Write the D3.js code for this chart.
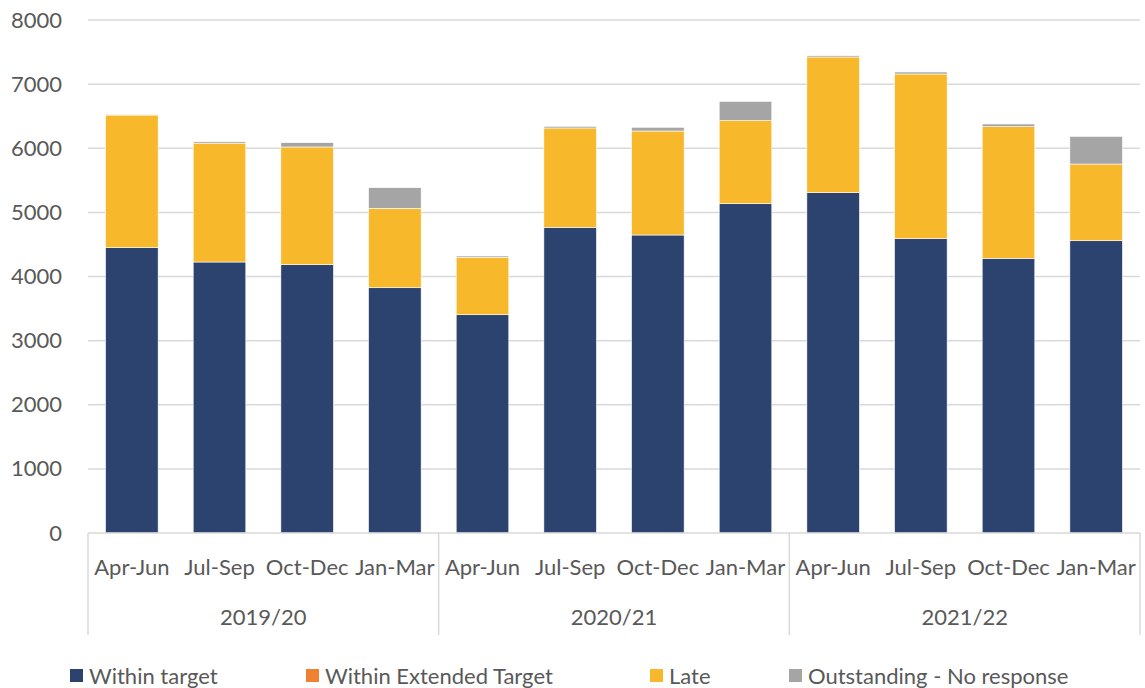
<!DOCTYPE html>
<html>
<head>
<meta charset="utf-8">
<script src="https://cdn.jsdelivr.net/npm/d3@7"></script>
<style>
  body { margin: 0; background: #fff; }
  svg { display: block; font-family: Lato, "Open Sans", sans-serif; }
</style>
</head>
<body>
<div class="chart"></div>
<script>
// quarters and financial years
const quarters = ["Apr-Jun", "Jul-Sep", "Oct-Dec", "Jan-Mar"];
const years = ["2019/20", "2020/21", "2021/22"];

// series values, one per quarter in order
const withinTarget = [4450, 4226, 4184, 3825, 3404, 4767, 4647, 5135, 5307, 4590, 4284, 4558];
const withinExtended = [0, 0, 0, 0, 0, 0, 0, 0, 0, 0, 0, 0];
const late = [2068, 1854, 1836, 1238, 896, 1549, 1622, 1295, 2116, 2568, 2052, 1196];
const outstanding = [5, 22, 67, 322, 20, 26, 58, 302, 20, 31, 42, 432];

const seriesNames = ["Within target", "Within Extended Target", "Late", "Outstanding - No response"];
const seriesColors = ["#2c4370", "#f08132", "#f7b82b", "#a5a5a5"];
const yTicks = [0, 1000, 2000, 3000, 4000, 5000, 6000, 7000, 8000];

const width = 1145, height = 688;
const margin = { left: 88, right: 1140, top: 20, bottom: 533 };
const fontSize = "22px";

const rows = [];
years.forEach((yr, yi) => quarters.forEach((q, qi) => {
  const i = yi * 4 + qi;
  rows.push({
    key: i, quarter: q, year: yr,
    "Within target": withinTarget[i],
    "Within Extended Target": withinExtended[i],
    "Late": late[i],
    "Outstanding - No response": outstanding[i]
  });
}));

const svg = d3.select(".chart").append("svg")
  .attr("width", width).attr("height", height);

const x = d3.scaleBand()
  .domain(rows.map(d => d.key))
  .range([margin.left, margin.right])
  .paddingInner(0.4)
  .paddingOuter(0.2);

const y = d3.scaleLinear().domain([0, 8000]).range([margin.bottom, margin.top]);

// gridlines
svg.append("g")
  .selectAll("line")
  .data(yTicks.filter(t => t > 0))
  .join("line")
  .attr("x1", margin.left).attr("x2", margin.right)
  .attr("y1", d => y(d)).attr("y2", d => y(d))
  .attr("stroke", "#d9d9d9").attr("stroke-width", 1.5);

// y labels
const yAxis = svg.append("g")
  .attr("transform", `translate(${margin.left},0)`)
  .call(d3.axisLeft(y).tickValues(yTicks).tickFormat(d3.format("d")).tickSize(0).tickPadding(26));
yAxis.select(".domain").remove();
yAxis.selectAll("text")
  .attr("fill", "#595959")
  .style("font-size", fontSize)
  .style("font-family", "Lato, sans-serif");

// stacked bars
const stack = d3.stack().keys(seriesNames);
const layers = stack(rows);

svg.append("g")
  .selectAll("g")
  .data(layers)
  .join("g")
  .attr("fill", (d, i) => seriesColors[i])
  .selectAll("rect")
  .data(d => d)
  .join("rect")
  .attr("x", d => x(d.data.key))
  .attr("width", x.bandwidth())
  .attr("y", d => y(d[1]))
  .attr("height", d => y(d[0]) - y(d[1]))
  .attr("stroke", "#ffffff")
  .attr("stroke-width", 0.6);

// x axis baseline
svg.append("line")
  .attr("x1", margin.left).attr("x2", margin.right)
  .attr("y1", margin.bottom).attr("y2", margin.bottom)
  .attr("stroke", "#d9d9d9").attr("stroke-width", 1.5);

// group separators
const groupW = (margin.right - margin.left) / years.length;
svg.append("g")
  .selectAll("line")
  .data(d3.range(years.length + 1))
  .join("line")
  .attr("x1", i => margin.left + i * groupW).attr("x2", i => margin.left + i * groupW)
  .attr("y1", margin.bottom).attr("y2", 635)
  .attr("stroke", "#d9d9d9").attr("stroke-width", 1.5);

// quarter labels
svg.append("g")
  .selectAll("text")
  .data(rows)
  .join("text")
  .attr("x", d => x(d.key) + x.bandwidth() / 2)
  .attr("y", 575)
  .attr("text-anchor", "middle")
  .attr("fill", "#595959")
  .style("font-size", fontSize)
  .text(d => d.quarter);

// year labels
svg.append("g")
  .selectAll("text")
  .data(years)
  .join("text")
  .attr("x", (d, i) => margin.left + (i + 0.5) * groupW)
  .attr("y", 625)
  .attr("text-anchor", "middle")
  .attr("fill", "#595959")
  .style("font-size", fontSize)
  .text(d => d);

// legend
const legendX = [70, 306, 650, 789];
const legend = svg.append("g")
  .selectAll("g")
  .data(seriesNames)
  .join("g")
  .attr("transform", (d, i) => `translate(${legendX[i]},676)`);
legend.append("rect")
  .attr("x", 0).attr("y", -7)
  .attr("width", 13).attr("height", 13)
  .attr("fill", (d, i) => seriesColors[i]);
legend.append("text")
  .attr("x", 19).attr("y", 8)
  .attr("fill", "#595959")
  .style("font-size", fontSize)
  .text(d => d);
</script>
</body>
</html>
